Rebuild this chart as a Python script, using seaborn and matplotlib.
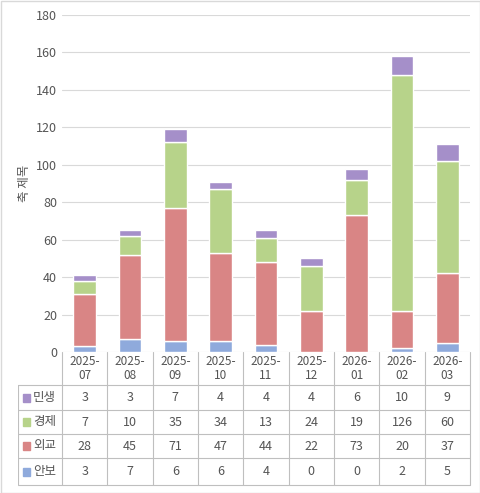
import matplotlib
matplotlib.use("Agg")
import matplotlib.pyplot as plt
import seaborn as sns
import pandas as pd
import numpy as np

months = ["2025-07","2025-08","2025-09","2025-10","2025-11","2025-12","2026-01","2026-02","2026-03"]
minsaeng = [3,3,7,4,4,4,6,10,9]
gyeongje = [7,10,35,34,13,24,19,126,60]
oegyo = [28,45,71,47,44,22,73,20,37]
anbo = [3,7,6,6,4,0,0,2,5]
series_names = ["안보","외교","경제","민생"]
colors = {"안보":"#8faadc","외교":"#d98585","경제":"#b7d38a","민생":"#a58fc9"}

sns.set_theme(style="white")
plt.rcParams['font.family'] = ['Noto Sans CJK KR', 'DejaVu Sans']

W, H = 481, 493
fig = plt.figure(figsize=(W/100, H/100), dpi=100)
ax = fig.add_axes([62/W, 1-352/H, 408/W, (352-15)/H])

df = pd.DataFrame({"month": months, "안보": anbo, "외교": oegyo, "경제": gyeongje, "민생": minsaeng})
bottom = np.zeros(len(months))
for s in series_names:
    sns.barplot(x=df["month"], y=df[s] + bottom, ax=ax, color=colors[s], width=0.5,
                zorder=3 - series_names.index(s) * 0.1 + 0.5, saturation=1)
    bottom += df[s].values
# redraw properly as stacked using matplotlib bar for correct bottoms
ax.cla()
bottom = np.zeros(len(months))
x = np.arange(len(months))
for s in series_names:
    ax.bar(x, df[s], bottom=bottom, color=colors[s], width=0.5, zorder=3)
    bottom += df[s].values
ax.set_xlim(-0.5, 8.5)
ax.set_ylim(0, 180)
ax.set_yticks(range(0, 181, 20))
ax.tick_params(axis='y', labelsize=9, colors="#555555", length=0)
ax.set_xticks([])
ax.grid(axis='y', color="#d9d9d9", linewidth=0.8, zorder=0)
for sp in ax.spines.values():
    sp.set_visible(False)
ax.set_ylabel("축 제목", fontsize=9, color="#555555")

# table
top_px, bot_px = 352, 485
tax = fig.add_axes([18/W, 1-bot_px/H, (470-18)/W, (bot_px-top_px)/H])
left = -0.5 - 44/(408/9)
tax.set_xlim(left, 8.5)
tax.set_ylim(bot_px, top_px)
tax.axis("off")
lc = "#bfbfbf"
rows = [385, 410, 434, 458, 485]
for y in rows:
    tax.plot([left, 8.5], [y, y], color=lc, lw=0.8, clip_on=False)
tax.plot([left, left], [385, 485], color=lc, lw=0.8)
for i in range(10):
    tax.plot([i-0.5, i-0.5], [352, 485], color=lc, lw=0.8, clip_on=False)
for i, m in enumerate(months):
    tax.text(i, 368.5, m.replace("-", "-\n"), ha="center", va="center", fontsize=8.5, color="#555555", linespacing=1.1)
table_rows = [("민생", minsaeng), ("경제", gyeongje), ("외교", oegyo), ("안보", anbo)]
for r, (name, vals) in enumerate(table_rows):
    yc = (rows[r] + rows[r+1]) / 2
    tax.add_patch(plt.Rectangle((left + 0.1, yc - 4), 0.17, 8, color=colors[name], clip_on=False))
    tax.text(left + 0.33, yc, name, ha="left", va="center", fontsize=9, color="#555555")
    for i, v in enumerate(vals):
        tax.text(i, yc, str(v), ha="center", va="center", fontsize=9, color="#555555")

fig.patches.append(plt.Rectangle((0.5/W, 0.5/H), 1-1/W, 1-1/H, transform=fig.transFigure,
                                 fill=False, edgecolor="#d9d9d9", lw=1))
fig.savefig("out.png", dpi=100)
